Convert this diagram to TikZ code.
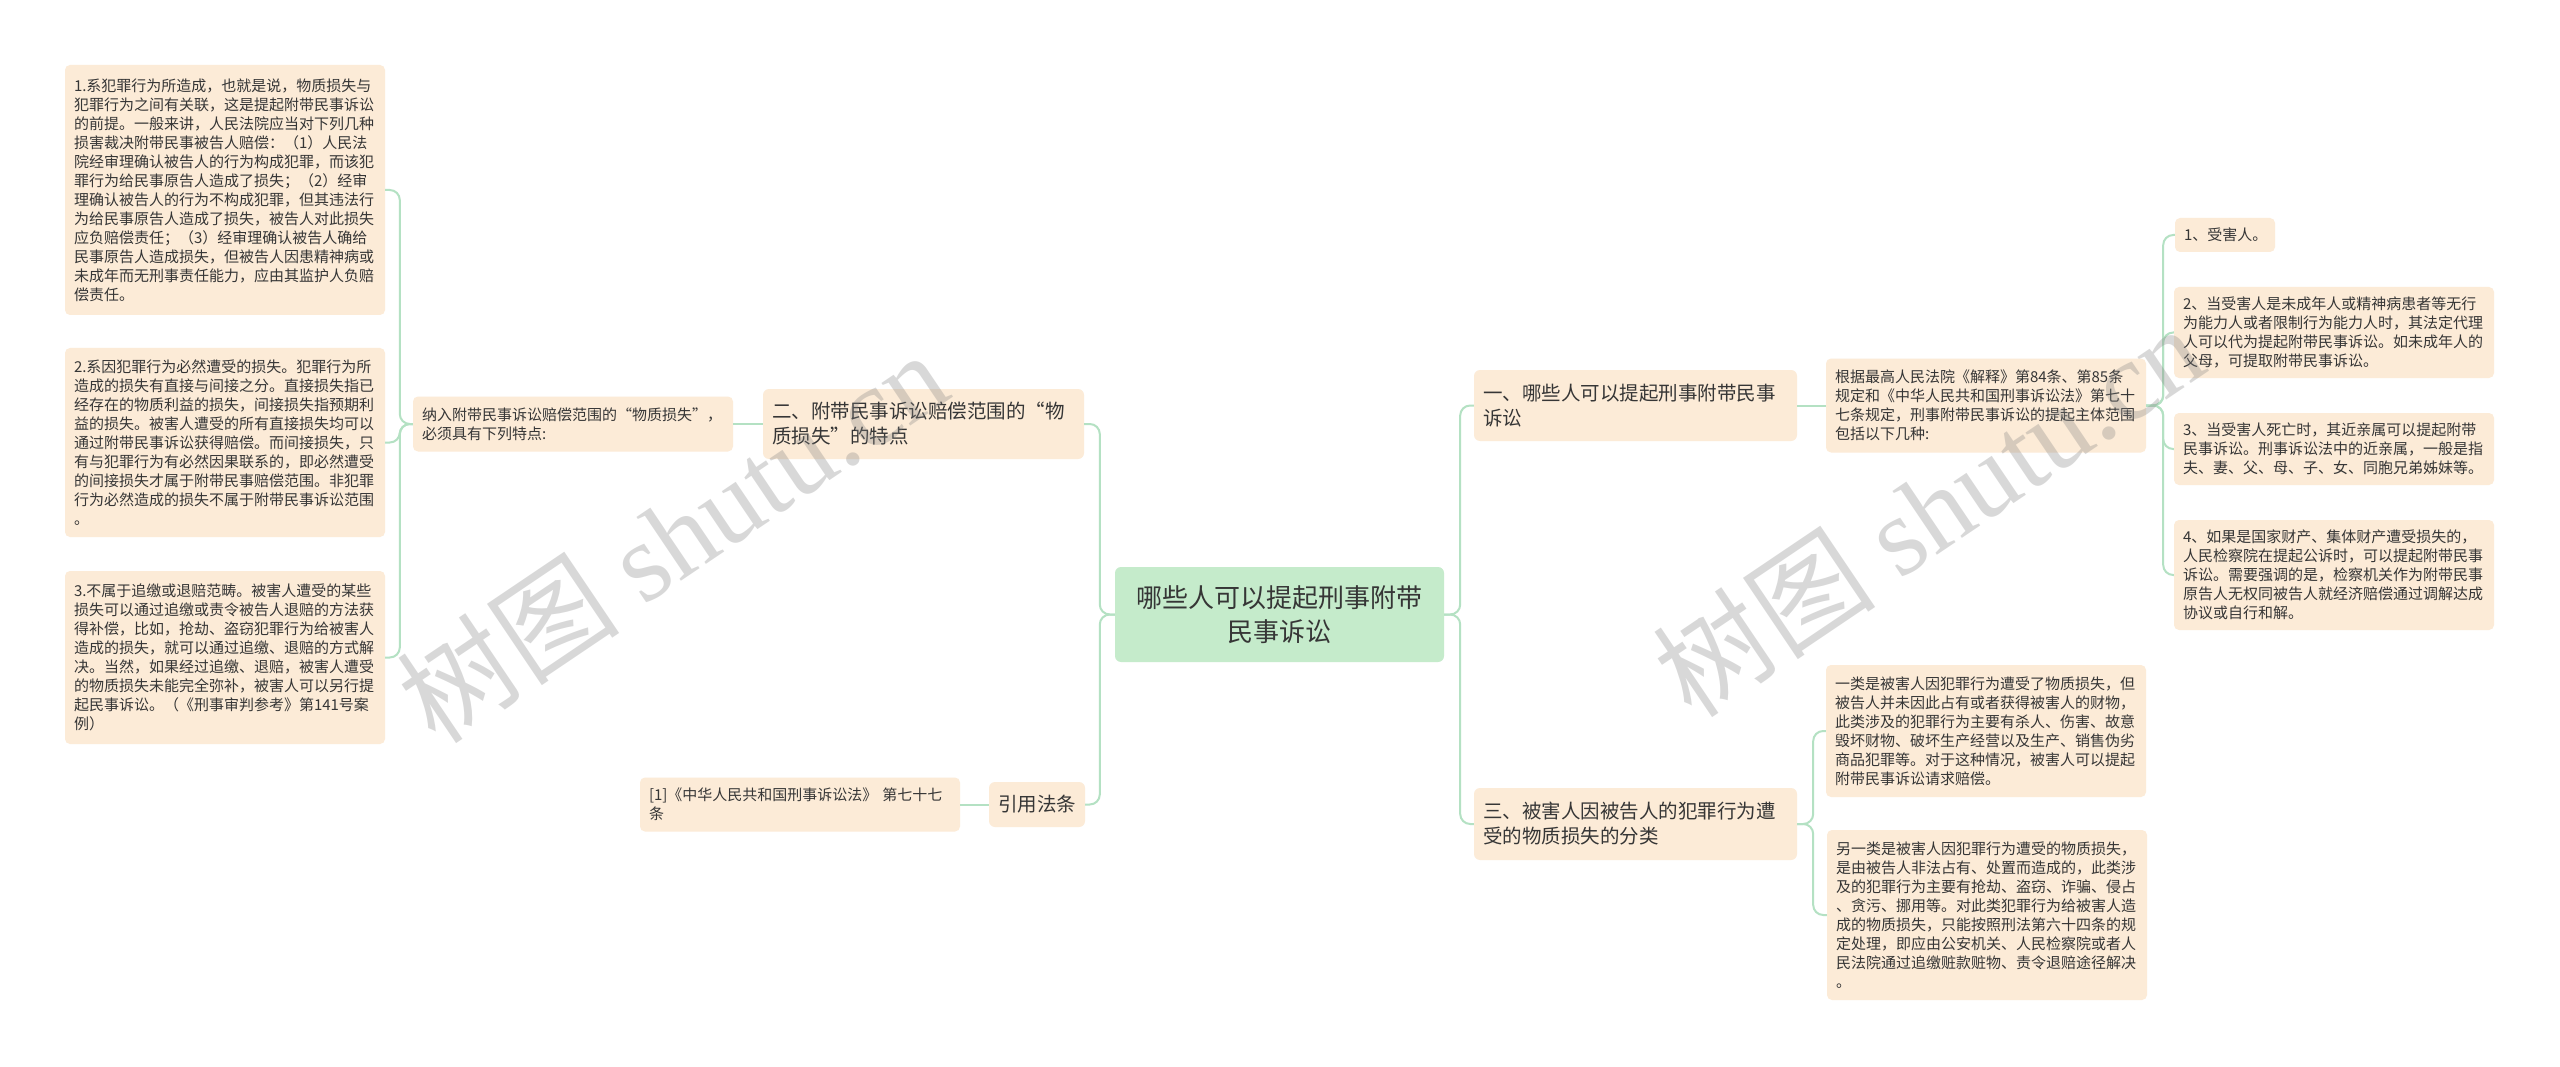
\documentclass[tikz,border=0pt]{standalone}
\usepackage{fontspec}
\setmainfont{Noto Sans CJK SC}
\newfontfamily\wmserif{Liberation Serif}
\definecolor{peach}{HTML}{FCEBD7}
\definecolor{rootg}{HTML}{C5EBCB}
\definecolor{lineg}{HTML}{B4E1C3}
\definecolor{txt}{HTML}{363636}
\begin{document}
\begin{tikzpicture}[x=1pt,y=-1pt,
  conn/.style={draw=lineg, line width=2pt, rounded corners=10pt},
  leafbox/.style={rectangle, rounded corners=5pt, fill=peach, text=txt, inner xsep=9pt, inner ysep=9pt, align=left, text width=302pt, font=\fontsize{15}{19}\selectfont},
  branchbox/.style={rectangle, rounded corners=6pt, fill=peach, text=txt, inner xsep=9pt, inner ysep=10pt, align=left, font=\fontsize{19.5}{25}\selectfont},
  centerbox/.style={rectangle, rounded corners=6pt, fill=rootg, text=txt, align=center, minimum width=329pt, minimum height=95pt, font=\fontsize{26}{34}\selectfont},
  wm/.style={rotate=34, text=gray, opacity=0.3, font=\fontsize{112}{112}\selectfont}]
\useasboundingbox[fill=white] (0,0) rectangle (2560,1067);

% left column
\node[leafbox, minimum height=250pt] (lb1) at (225,190) {1.系犯罪行为所造成，也就是说，物质损失与\\犯罪行为之间有关联，这是提起附带民事诉讼\\的前提。一般来讲，人民法院应当对下列几种\\损害裁决附带民事被告人赔偿：（1）人民法\\院经审理确认被告人的行为构成犯罪，而该犯\\罪行为给民事原告人造成了损失；（2）经审\\理确认被告人的行为不构成犯罪，但其违法行\\为给民事原告人造成了损失，被告人对此损失\\应负赔偿责任；（3）经审理确认被告人确给\\民事原告人造成损失，但被告人因患精神病或\\未成年而无刑事责任能力，应由其监护人负赔\\偿责任。};
\node[leafbox, minimum height=189pt] (lb2) at (225,442.5) {2.系因犯罪行为必然遭受的损失。犯罪行为所\\造成的损失有直接与间接之分。直接损失指已\\经存在的物质利益的损失，间接损失指预期利\\益的损失。被害人遭受的所有直接损失均可以\\通过附带民事诉讼获得赔偿。而间接损失，只\\有与犯罪行为有必然因果联系的，即必然遭受\\的间接损失才属于附带民事赔偿范围。非犯罪\\行为必然造成的损失不属于附带民事诉讼范围\\。};
\node[leafbox, minimum height=173pt] (lb3) at (225,657.5) {3.不属于追缴或退赔范畴。被害人遭受的某些\\损失可以通过追缴或责令被告人退赔的方法获\\得补偿，比如，抢劫、盗窃犯罪行为给被害人\\造成的损失，就可以通过追缴、退赔的方式解\\决。当然，如果经过追缴、退赔，被害人遭受\\的物质损失未能完全弥补，被害人可以另行提\\起民事诉讼。（《刑事审判参考》第141号案\\例）};

\node[leafbox, minimum height=55pt] (ml) at (573,424) {纳入附带民事诉讼赔偿范围的“物质损失”，\\必须具有下列特点:};
\node[branchbox, text width=303pt, minimum height=70pt] (b2) at (923.5,424) {二、附带民事诉讼赔偿范围的“物\\质损失”的特点};

\node[centerbox] (c) at (1279.5,614.5) {哪些人可以提起刑事附带\\民事诉讼};

\node[branchbox, text width=78pt, minimum height=45pt] (cit) at (1037,804.5) {引用法条};
\node[leafbox, minimum height=54pt] (law) at (800,804.5) {[1]《中华人民共和国刑事诉讼法》 第七十七\\条};

% right side
\node[branchbox, text width=305pt, minimum height=71pt] (b1) at (1635.5,405.5) {一、哪些人可以提起刑事附带民事\\诉讼};
\node[leafbox, minimum height=94pt] (rl) at (1986,405.5) {根据最高人民法院《解释》第84条、第85条\\规定和《中华人民共和国刑事诉讼法》第七十\\七条规定，刑事附带民事诉讼的提起主体范围\\包括以下几种:};
\node[leafbox, text width=82pt, minimum height=34pt] (r1) at (2225,235) {1、受害人。};
\node[leafbox, minimum height=91pt] (r2) at (2334,332.5) {2、当受害人是未成年人或精神病患者等无行\\为能力人或者限制行为能力人时，其法定代理\\人可以代为提起附带民事诉讼。如未成年人的\\父母，可提取附带民事诉讼。};
\node[leafbox, minimum height=72pt] (r3) at (2334,449) {3、当受害人死亡时，其近亲属可以提起附带\\民事诉讼。刑事诉讼法中的近亲属，一般是指\\夫、妻、父、母、子、女、同胞兄弟姊妹等。};
\node[leafbox, minimum height=110pt] (r4) at (2334,575) {4、如果是国家财产、集体财产遭受损失的，\\人民检察院在提起公诉时，可以提起附带民事\\诉讼。需要强调的是，检察机关作为附带民事\\原告人无权同被告人就经济赔偿通过调解达成\\协议或自行和解。};

\node[branchbox, text width=305pt, minimum height=72pt] (b3) at (1635.5,824) {三、被害人因被告人的犯罪行为遭\\受的物质损失的分类};
\node[leafbox, minimum height=132pt] (l3a) at (1986,731) {一类是被害人因犯罪行为遭受了物质损失，但\\被告人并未因此占有或者获得被害人的财物，\\此类涉及的犯罪行为主要有杀人、伤害、故意\\毁坏财物、破坏生产经营以及生产、销售伪劣\\商品犯罪等。对于这种情况，被害人可以提起\\附带民事诉讼请求赔偿。};
\node[leafbox, minimum height=170pt] (l3b) at (1987,915) {另一类是被害人因犯罪行为遭受的物质损失，\\是由被告人非法占有、处置而造成的，此类涉\\及的犯罪行为主要有抢劫、盗窃、诈骗、侵占\\、贪污、挪用等。对此类犯罪行为给被害人造\\成的物质损失，只能按照刑法第六十四条的规\\定处理，即应由公安机关、人民检察院或者人\\民法院通过追缴赃款赃物、责令退赔途径解决\\。};

% connectors
\draw[conn] (c.west) -- ++(-15,0) |- (b2.east);
\draw[conn] (c.west) -- ++(-15,0) |- (cit.east);
\draw[conn] (b2.west) -- (ml.east);
\draw[conn] (ml.west) -- ++(-13,0) |- (lb1.east);
\draw[conn] (ml.west) -- ++(-13,0) |- (lb2.east);
\draw[conn] (ml.west) -- ++(-13,0) |- (lb3.east);
\draw[conn] (cit.west) -- (law.east);
\draw[conn] (c.east) -- ++(16,0) |- (b1.west);
\draw[conn] (c.east) -- ++(16,0) |- (b3.west);
\draw[conn] (b1.east) -- (rl.west);
\draw[conn] (rl.east) -- ++(17,0) |- (r1.west);
\draw[conn] (rl.east) -- ++(17,0) |- (r2.west);
\draw[conn] (rl.east) -- ++(17,0) |- (r3.west);
\draw[conn] (rl.east) -- ++(17,0) |- (r4.west);
\draw[conn] (b3.east) -- ++(16,0) |- (l3a.west);
\draw[conn] (b3.east) -- ++(16,0) |- (l3b.west);

% watermarks
\node[wm] (wm1) at (672,536) {树图 {\wmserif shutu.cn}};
\node[wm] (wm2) at (1928,510) {树图 {\wmserif shutu.cn}};
\end{tikzpicture}
\end{document}
